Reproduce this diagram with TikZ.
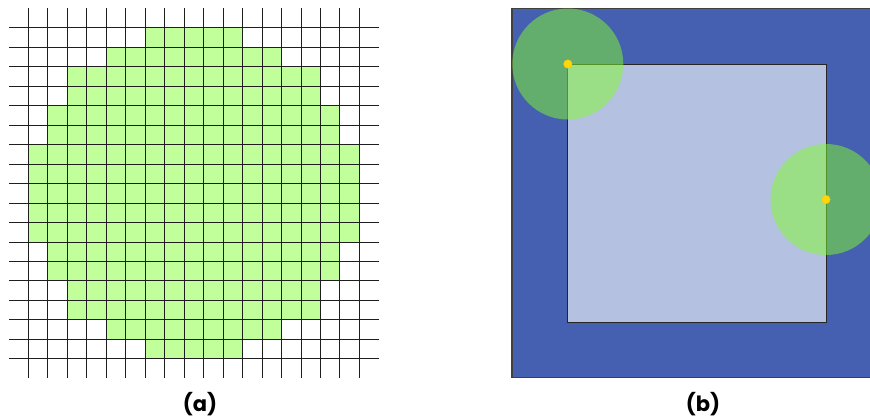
\documentclass[tikz,border=0pt]{standalone}
\usepackage{fontspec}
\setmainfont{Poppins}
\definecolor{cellgreen}{RGB}{192,255,153}
\definecolor{gridline}{RGB}{30,30,30}
\definecolor{outerblue}{RGB}{69,96,176}
\definecolor{innerblue}{RGB}{181,193,225}
\definecolor{circgreen}{RGB}{129,252,44}
\definecolor{dotyellow}{RGB}{255,214,10}
\begin{document}
\begin{tikzpicture}[x=1pt,y=-1pt,
  cellfill/.style={fill=cellgreen},
  gridstroke/.style={draw=gridline,line width=0.8pt},
  outerbox/.style={fill=outerblue,draw=black!75,line width=1.2pt},
  innerbox/.style={fill=innerblue,draw=black!85,line width=1pt},
  zone/.style={fill=circgreen,fill opacity=0.5},
  dot/.style={circle,fill=dotyellow,draw=dotyellow!80!orange,line width=0.3pt,inner sep=0pt,minimum size=8.5pt},
  caption/.style={font=\bfseries\fontsize{21}{24}\selectfont,inner sep=0pt}]
\useasboundingbox (0,0) rectangle (870,418);
% ---------- panel (a) ----------
\def\sz{19.47}
\def\xo{8.85}
\def\yo{8.3}
\foreach \r/\a/\b in {1/7/11,2/5/13,3/3/15,4/3/15,5/2/16,6/2/16,7/1/17,8/1/17,9/1/17,10/1/17,11/1/17,12/2/16,13/2/16,14/3/15,15/3/15,16/5/13,17/7/11}{
  \fill[cellfill] ({\xo+\a*\sz},{\yo+\r*\sz}) rectangle ({\xo+(\b+1)*\sz},{\yo+(\r+1)*\sz});
}
\foreach \k in {1,...,18}{
  \draw[gridstroke] ({\xo+\k*\sz},\yo) -- ({\xo+\k*\sz},{\yo+19*\sz});
  \draw[gridstroke] (\xo,{\yo+\k*\sz}) -- ({\xo+19*\sz},{\yo+\k*\sz});
}
\node[caption] (capa) at (200,404) {(a)};
% ---------- panel (b) ----------
\begin{scope}
\clip (0,0) rectangle (870,418);
\draw[outerbox] (512,8.3) rectangle (873,377.7);
\draw[innerbox] (567.8,64) rectangle (826,322.3);
\fill[zone] (567.8,64) circle (55.5);
\fill[zone] (826,199.5) circle (55.5);
\end{scope}
\node[dot] (p1) at (567.8,64) {};
\node[dot] (p2) at (826,199.5) {};
\node[caption] (capb) at (703,404) {(b)};
\end{tikzpicture}
\end{document}
